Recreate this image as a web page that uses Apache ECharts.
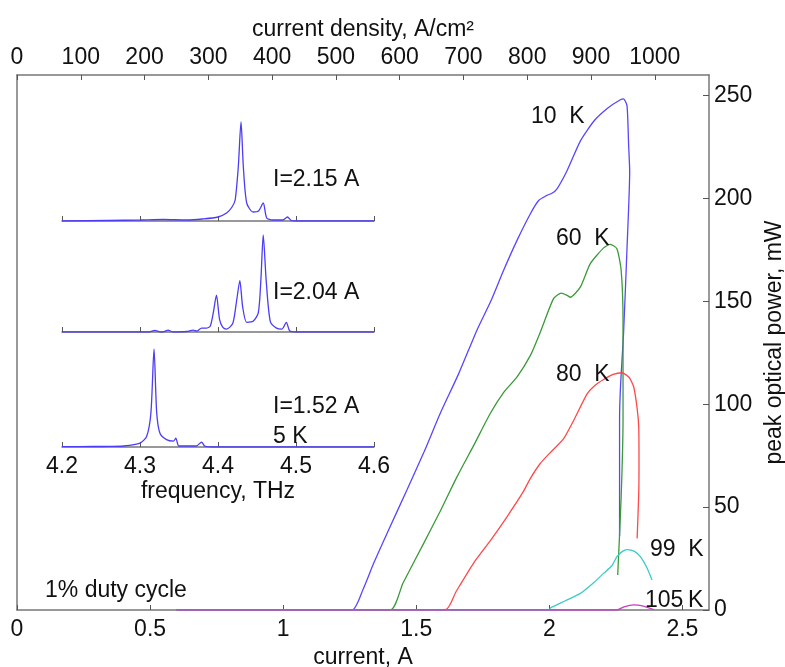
<!DOCTYPE html>
<html>
<head>
<meta charset="utf-8">
<script src="https://cdn.jsdelivr.net/npm/echarts@6/dist/echarts.min.js"></script>
</head>
<body style="margin:0;background:#fff;">
<div id="main" style="width:785px;height:667px;"></div>
<script type="text/javascript">
    // L-I curves: [current A, peak power mW]
    var curve10K = [[0.6,0],[1.258,0],[1.30,10],[1.34,22.7],[1.40,40],[1.465,58.3],[1.53,77],[1.59,95.5],[1.66,115],[1.728,136],
        [1.78,150],[1.828,165],[1.88,180],[1.929,192.6],[1.96,199],[1.991,201.5],[2.01,202.5],[2.029,204.7],[2.067,213.6],
        [2.117,228],[2.17,238],[2.22,244],[2.267,248],[2.279,248.4],[2.292,245],[2.298,226],[2.302,213],[2.292,176],
        [2.279,134.5],[2.268,110],[2.264,93],[2.264,36]];
    var curve60K = [[0.6,0],[1.402,0],[1.45,13],[1.528,32.4],[1.59,48],[1.653,64.7],[1.72,81],[1.778,95.5],[1.83,106],
        [1.879,113.3],[1.93,124],[1.966,135],[2.016,151.3],[2.045,154],[2.067,152.9],[2.079,152],[2.117,157],[2.154,168.3],
        [2.204,176],[2.229,177.7],[2.254,175.6],[2.27,165],[2.277,140],[2.277,93],[2.27,55],[2.257,17]];
    var curve80K = [[0.6,0],[1.609,0],[1.65,9],[1.715,22.7],[1.78,34],[1.841,45.3],[1.90,57],[1.929,64],[1.966,71.2],
        [2.0,76],[2.054,83.3],[2.091,92],[2.142,105],[2.17,109],[2.204,112],[2.24,114.5],[2.273,115.3],[2.30,113],
        [2.317,108.5],[2.33,98],[2.336,89],[2.337,70],[2.336,56.6],[2.33,34.8]];
    var curve99K = [[0.6,0],[2.0,0],[2.004,1],[2.06,4.5],[2.117,8.1],[2.16,12.5],[2.204,17.8],[2.235,21.5],[2.254,25.9],
        [2.275,28.5],[2.292,29.3],[2.32,28.5],[2.342,25.9],[2.365,21],[2.386,14.6]];
    var curve105K = [[0.6,0],[2.254,0],[2.28,1.5],[2.317,2.5],[2.35,2],[2.392,0.2]];

    // spectra: [frequency THz, normalised intensity]
    var spec215 = [[4.2,0],[4.26,0.005],[4.30,0.01],[4.33,0.015],[4.36,0.01],[4.38,0.02],[4.40,0.04],[4.411,0.08],
        [4.418,0.14],[4.422,0.21],[4.426,0.54],[4.4295,0.99],[4.4325,0.54],[4.4368,0.18],[4.445,0.09],[4.452,0.1],
        [4.458,0.18],[4.4624,0.03],[4.47,0.01],[4.483,0.01],[4.489,0.04],[4.494,0.005],[4.50,0],[4.6,0]];
    var spec204 = [[4.2,0],[4.30,0],[4.312,0],[4.319,0.016],[4.326,0],[4.331,0.005],[4.336,0.02],[4.342,0],[4.36,0.005],
        [4.368,0.02],[4.373,0.01],[4.379,0.04],[4.385,0.04],[4.390,0.06],[4.394,0.2],[4.398,0.38],[4.402,0.13],
        [4.406,0.05],[4.411,0.03],[4.419,0.09],[4.424,0.33],[4.428,0.53],[4.4316,0.26],[4.4368,0.1],[4.445,0.11],
        [4.4517,0.2],[4.455,0.54],[4.458,1.0],[4.4617,0.54],[4.467,0.11],[4.475,0.04],[4.482,0.03],[4.4876,0.1],
        [4.492,0.01],[4.50,0],[4.6,0]];
    var spec152 = [[4.2,0.003],[4.24,0.005],[4.26,0.006],[4.279,0.01],[4.30,0.04],[4.3086,0.11],[4.314,0.35],[4.318,1.0],
        [4.3214,0.35],[4.3256,0.14],[4.334,0.075],[4.343,0.06],[4.346,0.09],[4.35,0.01],[4.372,0.01],[4.379,0.05],
        [4.383,0.01],[4.398,0],[4.6,0]];

    var curveNames = ['10 K', '60 K', '80 K', '99 K', '105 K'];
    var curveData = [curve10K, curve60K, curve80K, curve99K, curve105K];
    var curveColors = ['#5846ff', '#3a9a3a', '#ff4848', '#3ccaca', '#c83cc8'];

    var font = 'Liberation Sans, Arial, sans-serif';
    var fs = 23;
    var axisColor = '#777';

    var myChart = echarts.init(document.getElementById('main'));

    function lbl(margin, extra) {
        return Object.assign({color: '#111', fontSize: fs, fontFamily: font, margin: margin, showMaxLabel: false,
            formatter: function (v) { return String(v); }}, extra || {});
    }

    function mainAxis(extra) {
        return Object.assign({
            type: 'value',
            gridIndex: 0,
            splitLine: {show: false},
            axisLine: {show: true, onZero: false, lineStyle: {color: axisColor, width: 1.5}},
            axisTick: {show: true, inside: true, length: 5, lineStyle: {color: '#555', width: 1}},
            axisLabel: lbl(8),
            nameTextStyle: {color: '#111', fontSize: fs, fontFamily: font}
        }, extra);
    }

    function insetX(idx, showLabel) {
        return {
            type: 'value',
            gridIndex: idx,
            min: 4.2,
            max: 4.6,
            interval: 0.1,
            splitLine: {show: false},
            axisLine: {show: true, onZero: false, lineStyle: {color: axisColor, width: 1.5}},
            axisTick: {show: true, inside: true, length: 5, lineStyle: {color: '#555', width: 1}},
            axisLabel: {show: showLabel, color: '#111', fontSize: fs, fontFamily: font, margin: 8,
                formatter: function (v) { return v.toFixed(1); }},
            name: showLabel ? 'frequency, THz' : '',
            nameLocation: 'middle',
            nameGap: 33,
            nameTextStyle: {color: '#111', fontSize: fs, fontFamily: font}
        };
    }

    function insetY(idx) {
        return {type: 'value', gridIndex: idx, min: 0, max: 1, show: false};
    }

    var series = curveData.map(function (d, i) {
        return {
            name: curveNames[i],
            type: 'line',
            xAxisIndex: 0,
            yAxisIndex: 0,
            data: d,
            showSymbol: false,
            smooth: 0.2,
            lineStyle: {color: curveColors[i], width: 1.3},
            z: 2 + i
        };
    });
    [spec215, spec204, spec152].forEach(function (d, i) {
        series.push({
            type: 'line',
            xAxisIndex: 2 + i,
            yAxisIndex: 2 + i,
            data: d,
            showSymbol: false,
            smooth: 0.25,
            lineStyle: {color: '#4b3cf7', width: 1.3}
        });
    });

    function txt(text, x, y, align) {
        return {
            type: 'text', x: x, y: y, z: 100,
            style: {text: text, fill: '#111', font: fs + 'px ' + font, align: align || 'left', verticalAlign: 'middle'}
        };
    }

    var option = {
        backgroundColor: '#fff',
        animation: false,
        grid: [
            {left: 17, right: 76, top: 75, bottom: 57, outerBoundsMode: 'none', containLabel: false},
            {left: 62, width: 312, top: 121, height: 100, outerBoundsMode: 'none', containLabel: false},
            {left: 62, width: 312, top: 235, height: 97, outerBoundsMode: 'none', containLabel: false},
            {left: 62, width: 312, top: 349, height: 98, outerBoundsMode: 'none', containLabel: false}
        ],
        xAxis: [
            mainAxis({position: 'bottom', min: 0, max: 2.6, interval: 0.5, name: 'current, A',
                nameLocation: 'middle', nameGap: 35, axisLabel: lbl(8)}),
            mainAxis({position: 'top', min: 0, max: 1085, interval: 100, name: 'current density, A/cm²',
                nameLocation: 'middle', nameGap: 34, axisLabel: lbl(6)}),
            insetX(1, false),
            insetX(2, false),
            insetX(3, true)
        ],
        yAxis: [
            mainAxis({position: 'right', min: 0, max: 260, interval: 50, name: 'peak optical power, mW',
                nameLocation: 'middle', nameRotate: 90, nameGap: 52,
                axisTick: {show: true, inside: true, length: 6, lineStyle: {color: '#555', width: 1}},
                axisLabel: lbl(5)}),
            mainAxis({position: 'left', min: 0, max: 260, axisTick: {show: false}, axisLabel: {show: false}}),
            insetY(1),
            insetY(2),
            insetY(3)
        ],
        graphic: [
            txt('10  K', 531, 117),
            txt('60  K', 556, 239),
            txt('80  K', 556, 375),
            txt('99  K', 650, 550),
            txt('105\u2009K', 645, 601),
            txt('1% duty cycle', 45, 591),
            txt('I=2.15 A', 273, 180),
            txt('I=2.04 A', 273, 293),
            txt('I=1.52 A', 273, 407),
            txt('5 K', 273, 437)
        ],
        series: series
    };

    myChart.setOption(option);
</script>
</body>
</html>
